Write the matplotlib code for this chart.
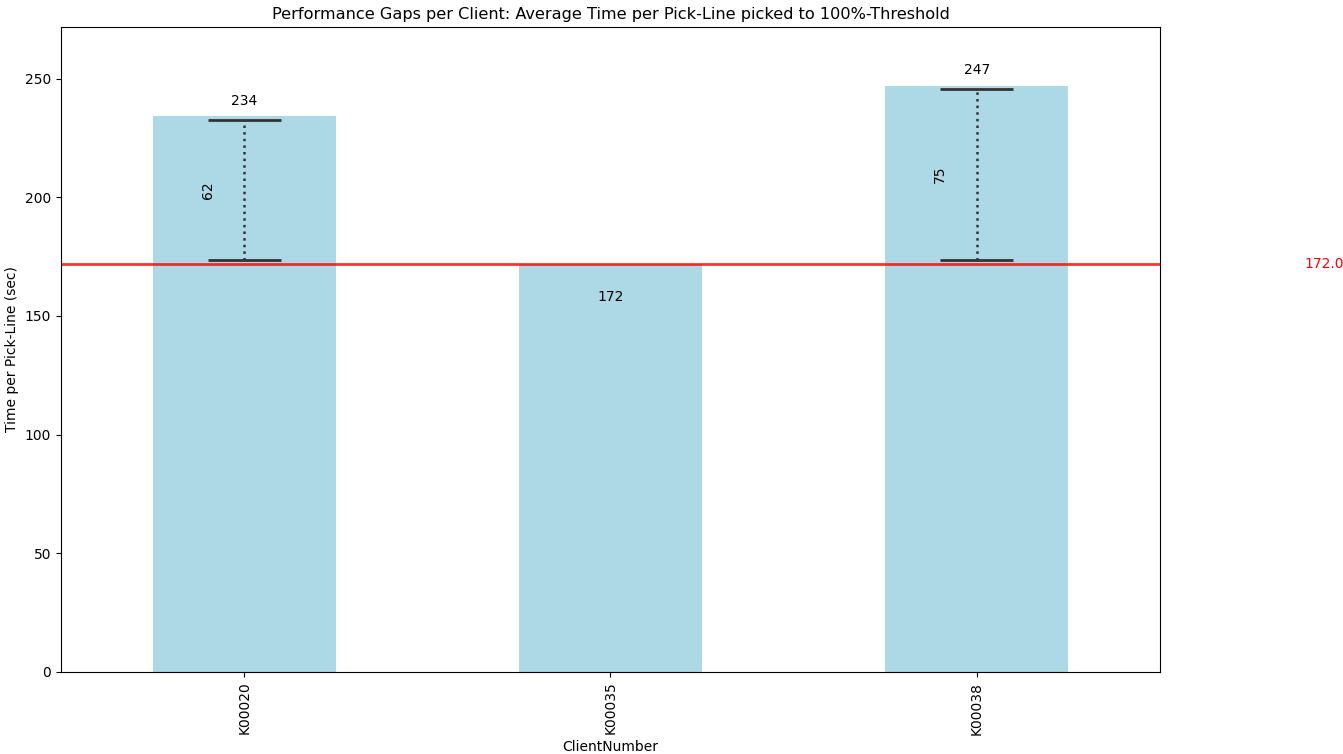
import numpy as np
import matplotlib
matplotlib.use("Agg")
import matplotlib.pyplot as plt

# data
clients = ["K00020", "K00035", "K00038"]
avg_time = [234, 172, 247]
threshold = 172.0

fig = plt.figure(figsize=(13.43, 7.54), dpi=100)
ax = fig.add_axes([0.0454, 0.1088, 0.8183, 0.8554])

x = np.arange(len(clients))
ax.bar(x, avg_time, width=0.5, color="lightblue")
ax.set_xlim(-0.5, len(clients) - 0.5)
ax.set_ylim(0, max(avg_time) * 1.1)
ax.set_xticks(x)
ax.set_xticklabels(clients, rotation=90)

# threshold line and its label outside the axes
ax.axhline(threshold, color="red", alpha=0.8, lw=2)
ax.text(2.895, threshold, f"{threshold:.1f}", color="red", va="center", ha="left",
        fontsize=10)

# gap brackets for clients above threshold
shrink = 1.5
for xi, v in zip(x, avg_time):
    if v > threshold:
        lo, hi = threshold + shrink, v - shrink
        ax.vlines(xi, lo, hi, colors="#333333", linestyles=":", lw=1.8)
        ax.hlines([lo, hi], xi - 0.1, xi + 0.1, colors="#333333", lw=2)
        ax.text(xi - 0.1, (threshold + v) / 2, f"{v - threshold:.0f}", rotation=90,
                ha="center", va="center", fontsize=10)
        ax.annotate(f"{v}", (xi, v), xytext=(0, 11), textcoords="offset points",
                    ha="center", va="center", fontsize=10)
    else:
        ax.annotate(f"{v}", (xi, v), xytext=(0, -24), textcoords="offset points",
                    ha="center", va="center", fontsize=10)

ax.set_title("Performance Gaps per Client: Average Time per Pick-Line picked to 100%-Threshold",
             fontsize=11.6)
ax.set_xlabel("ClientNumber")
ax.set_ylabel("Time per Pick-Line (sec)")

fig.savefig("out.png", dpi=100)
